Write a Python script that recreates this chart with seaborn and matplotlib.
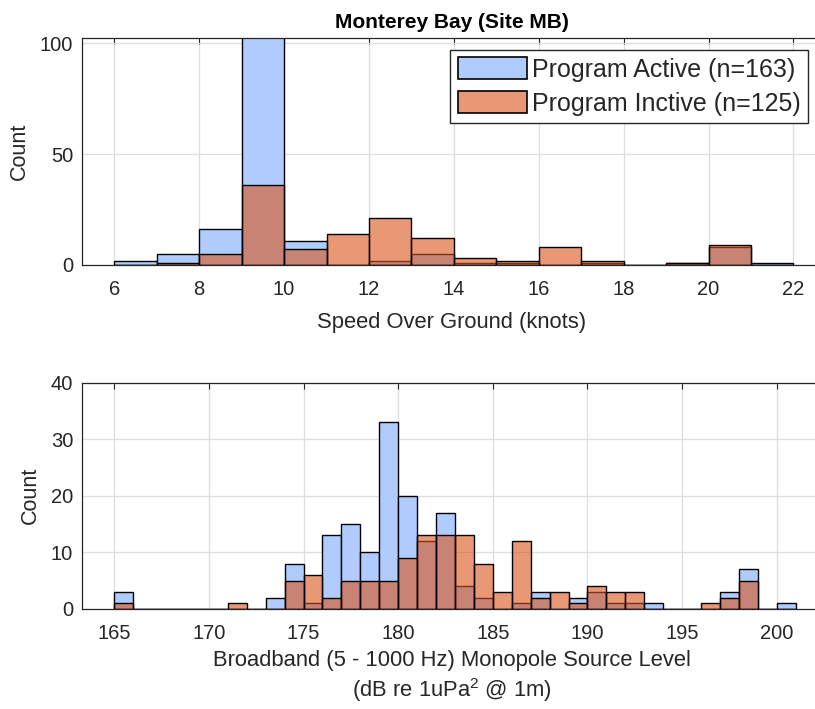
import seaborn as sns
import pandas as pd
import matplotlib.pyplot as plt
import numpy as np
from matplotlib.patches import Patch
from matplotlib.colors import to_rgba

# Speed over ground, 1-knot bins from 6 to 22
speed_edges = list(range(6, 23))
speed_active = [2, 5, 16, 108, 11, 0, 2, 5, 1, 1, 0, 1, 0, 1, 8, 1]
speed_inactive = [0, 1, 5, 36, 7, 14, 21, 12, 3, 2, 8, 2, 0, 1, 9, 0]

# Broadband source level, 1-dB bins from 165 to 201
sl_edges = list(range(165, 202))
sl_active = [3, 0, 0, 0, 0, 0, 0, 0, 2, 8, 1, 13, 15, 10, 33, 20, 12, 17,
             4, 2, 0, 1, 3, 0, 2, 3, 1, 1, 1, 0, 0, 0, 3, 7, 0, 1]
sl_inactive = [1, 0, 0, 0, 0, 0, 1, 0, 0, 5, 6, 2, 5, 5, 5, 9, 13, 13,
               13, 8, 3, 12, 2, 3, 1, 4, 3, 3, 0, 0, 0, 1, 2, 5, 0, 0]

labels = ['Program Active (n=163)', 'Program Inctive (n=125)']
blue = '#b0ccff'
orange = '#d95319'
dark = '#262626'

sns.set_style("white")
plt.rcParams['font.family'] = ['Liberation Sans', 'DejaVu Sans']
plt.rcParams['mathtext.fontset'] = 'custom'
plt.rcParams['mathtext.rm'] = 'Liberation Sans'
plt.rcParams['mathtext.it'] = 'Liberation Sans:italic'

# axes run past the right edge of the picture (right frame is cut off)
L, R = 81.5, 822.0
fig = plt.figure(figsize=(8.15, 7.09), dpi=100)
ax1 = fig.add_axes([L / 815, 1 - 265 / 709, (R - L) / 815, (265 - 38) / 709])
ax2 = fig.add_axes([L / 815, 1 - 609 / 709, (R - L) / 815, (609 - 382.6) / 709])


def draw_pair(ax, edges, active, inactive):
    df = pd.DataFrame({'x': [e + 0.5 for e in edges[:-1]],
                       'active': active, 'inactive': inactive})
    sns.histplot(data=df, x='x', weights='active', bins=edges, ax=ax,
                 color=blue, alpha=1.0, edgecolor='black', linewidth=1.0)
    sns.histplot(data=df, x='x', weights='inactive', bins=edges, ax=ax,
                 color=orange, alpha=0.6, edgecolor='black', linewidth=1.0)
    ax.grid(True, color='#dedede', linewidth=0.9)
    ax.set_axisbelow(True)
    ax.tick_params(direction='in', top=True, right=True, length=4,
                   width=0.8, labelsize=14.5, colors=dark)
    ax.tick_params(axis='x', pad=11)
    ax.tick_params(axis='y', pad=6)
    for s in ax.spines.values():
        s.set_color(dark)
        s.set_linewidth(0.9)
    ax.set_ylabel('Count', fontsize=15.5, color=dark, labelpad=7)


draw_pair(ax1, speed_edges, speed_active, speed_inactive)
ax1.set_xlim(5.227, 22.673)
ax1.set_ylim(0, 102.3)
ax1.set_xticks(np.arange(6, 23, 2))
ax1.set_yticks([0, 50, 100])
ax1.set_xlabel('Speed Over Ground (knots)', fontsize=15.8, color=dark, labelpad=9)
ax1.set_title('Monterey Bay (Site MB)', fontsize=15, fontweight='bold', pad=7,
              color='black')

handles = [Patch(facecolor=blue, edgecolor='black', linewidth=1.2, label=labels[0]),
           Patch(facecolor=to_rgba(orange, 0.6), edgecolor='black', linewidth=1.2,
                 label=labels[1])]
leg = ax1.legend(handles=handles, loc='upper right',
                 bbox_to_anchor=((808 - L) / (R - L), 1 - 12 / 227),
                 borderaxespad=0, fontsize=18, frameon=True,
                 fancybox=False, edgecolor=dark, framealpha=1,
                 handlelength=2.76, handleheight=0.96, handletextpad=0.21,
                 borderpad=0.3, labelspacing=0.37)
leg.get_frame().set_linewidth(1.0)

draw_pair(ax2, sl_edges, sl_active, sl_inactive)
ax2.set_xlim(163.27, 202.39)
ax2.set_ylim(0, 40)
ax2.set_xticks(np.arange(165, 201, 5))
ax2.set_yticks(np.arange(0, 41, 10))
ax2.set_xlabel('Broadband (5 - 1000 Hz) Monopole Source Level\n(dB re 1uPa$^2$ @ 1m)',
               fontsize=15.8, color=dark, labelpad=5, linespacing=1.25)

fig.savefig('out.png', dpi=100)
